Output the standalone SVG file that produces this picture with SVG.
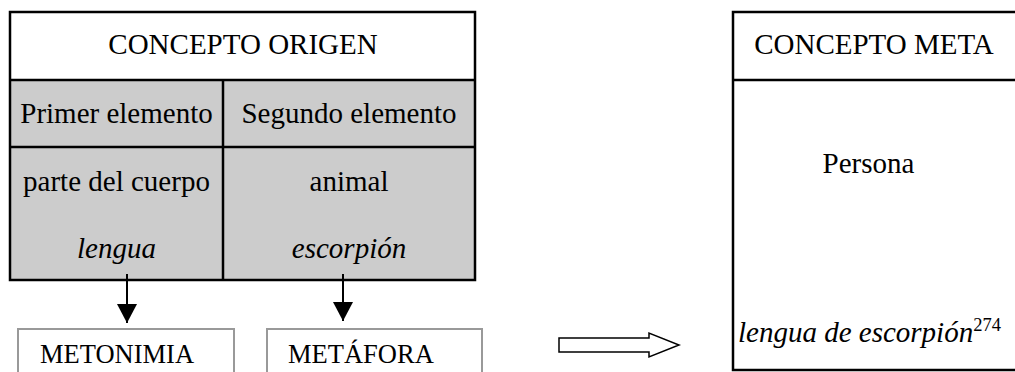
<svg xmlns="http://www.w3.org/2000/svg" width="1015" height="372" viewBox="0 0 1015 372">
<defs>
<style>
text{font-family:"Liberation Serif","Times New Roman",serif;font-size:29px;fill:#000}
.c{text-anchor:middle}
.i{font-style:italic}
.b{stroke:#000;stroke-width:2.5;fill:none}
.g{fill:#cccccc;stroke:none}
.box{fill:#fff;stroke:#999;stroke-width:2}
.sm{font-size:26.5px}
.sup{font-style:normal;font-size:18.5px}
.conn{stroke:#000;stroke-width:2;fill:none}
</style>
<marker id="ah" markerWidth="20" markerHeight="20" refX="19" refY="10" orient="auto" markerUnits="userSpaceOnUse" viewBox="0 0 20 20">
<path d="M0,0 L19,10 L0,20 Z" fill="#000"/>
</marker>
</defs>
<rect width="1015" height="372" fill="#fff"/>
<g id="origen">
<rect class="g" x="10" y="80" width="465" height="200"/>
<rect class="b" x="10" y="12" width="465" height="268"/>
<line class="b" x1="10" y1="80" x2="475" y2="80"/>
<line class="b" x1="10" y1="147" x2="475" y2="147"/>
<line class="b" x1="223" y1="80" x2="223" y2="280"/>
<text class="c" x="243" y="54">CONCEPTO ORIGEN</text>
<text class="c" x="116.5" y="123">Primer elemento</text>
<text class="c" x="349" y="123">Segundo elemento</text>
<text class="c" x="116.5" y="191">parte del cuerpo</text>
<text class="c" x="349" y="191">animal</text>
<text class="c i" x="116.5" y="258">lengua</text>
<text class="c i" x="349" y="258">escorpión</text>
</g>
<g id="metonimia">
<rect class="box" x="18" y="329" width="216" height="60"/>
<text class="sm" x="40" y="363">METONIMIA</text>
</g>
<g id="metafora">
<rect class="box" x="267" y="329" width="215" height="60"/>
<text class="sm" x="288" y="363">METÁFORA</text>
</g>
<g id="meta">
<rect class="b" x="733" y="12" width="290" height="358"/>
<line class="b" x1="733" y1="80" x2="1015" y2="80"/>
<text class="c" x="874" y="54">CONCEPTO META</text>
<text class="c" x="868.5" y="173">Persona</text>
<text class="i" x="738" y="342">lengua de escorpión<tspan class="sup" dy="-11">274</tspan></text>
</g>
<g id="connectors">
<line class="conn" x1="127" y1="274" x2="127" y2="323" marker-end="url(#ah)"/>
<line class="conn" x1="343" y1="274" x2="343" y2="321" marker-end="url(#ah)"/>
<path d="M559,338 L649,338 L649,333 L679,345 L649,357 L649,352 L559,352 Z" fill="#fff" stroke="#000" stroke-width="1.5"/>
</g>
</svg>
